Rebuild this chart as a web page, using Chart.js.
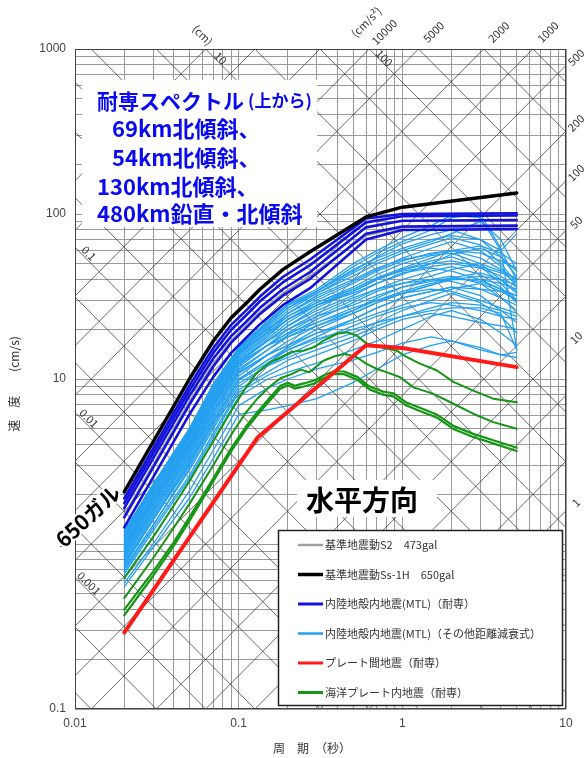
<!DOCTYPE html>
<html><head><meta charset="utf-8">
<script src="https://cdn.jsdelivr.net/npm/chart.js@4/dist/chart.umd.min.js"></script>
<style>html,body{margin:0;padding:0;background:#fff}canvas{display:block}</style>
</head><body>
<canvas id="c" width="588" height="758" style="width:588px;height:758px"></canvas>
<script>
// ---- axis ticks ----
const xTickValues = [0.01, 0.1, 1, 10];
const xTickLabels = ['0.01', '0.1', '1', '10'];
const yTickValues = [0.1, 1, 10, 100, 1000];
const yTickLabels = ['0.1', '1', '10', '100', '1000'];

// tripartite grid (pseudo acceleration cm/s2, displacement cm)
const accelGrid = [1,2,5,10,20,50,100,200,500,1000,2000,5000,10000,20000,50000,100000];
const dispGrid = [0.0001,0.0002,0.0005,0.001,0.002,0.005,0.01,0.02,0.05,0.1,0.2,0.5,1,2,5,10,20,50,100,200,500,1000,2000];
const accelTopLabels = [10000, 5000, 2000, 1000];
const accelRightLabels = [500, 200, 100, 50, 10, 1];
const dispTopLabels = [10, 100];
const dispLeftLabels = ['0.1', '0.01', '0.001'];
const dispLeftValues = [0.1, 0.01, 0.001];

// ---- spectra (period s, velocity cm/s) ----
const envT = [0.02, 0.05, 0.07, 0.09, 0.11, 0.135, 0.186, 0.273, 0.6, 1.0, 5.0];
const ss1hV =    [2.07, 10.0, 17.0, 23.5, 28.5, 35.0, 46.0, 59.0, 96, 110, 134];
const s2V =      [1.50, 7.3, 12.4, 17.1, 20.8, 25.5, 33.0, 42.0, 74, 83, 84];
const taisen1V = [1.89, 9.1, 15.4, 21.3, 25.8, 31.6, 41.5, 53.0, 94, 100, 101];
const taisen2V = [1.77, 8.5, 14.4, 19.9, 24.1, 29.6, 38.5, 49.0, 89, 97, 98];
const taisen3V = [1.65, 7.9, 13.3, 18.2, 22.0, 27.0, 35.0, 44.5, 83, 91, 92];
const taisen4V = [1.45, 7.0, 11.9, 16.6, 20.2, 24.8, 32.0, 40.5, 76, 84, 85];
const taisen5V = [1.26, 6.1, 10.3, 14.4, 17.6, 21.5, 28.0, 35.5, 70, 80, 81];

const plateT = [0.02, 0.13, 0.6, 1.0, 5.0];
const plateV = [0.29, 4.4, 16, 15.4, 11.8];

const slab1T = [0.02,0.03,0.04,0.05,0.07,0.09,0.11,0.13,0.155,0.18,0.21,0.25,0.29,0.33,0.4,0.46,0.53,0.6,0.73,0.92,1.06,1.28,1.62,2.05,2.71,3.59,5.0];
const slab1V = [0.62,1.1,1.7,2.4,4.2,6.4,8.8,11.0,12.6,13.5,14.6,14.9,15.6,17.1,18.8,19.2,18.3,16.5,15.6,14.9,13.6,12.4,11.3,9.6,8.5,7.6,7.24];
const slab2T = [0.02,0.03,0.04,0.05,0.07,0.09,0.11,0.13,0.155,0.18,0.21,0.24,0.27,0.33,0.39,0.45,0.53,0.6,0.7,0.8,0.97,1.17,1.55,2.05,2.71,3.59,5.0];
const slab2V = [0.47,0.82,1.25,1.75,3.0,4.6,6.2,7.6,9.0,10.1,10.7,11.4,11.0,12.9,13.8,14.2,13.5,12.4,11.5,11.0,10.25,8.9,8.13,7.08,6.16,5.48,5.0];
const slab3T = [0.02,0.03,0.04,0.05,0.07,0.09,0.11,0.13,0.155,0.18,0.2,0.22,0.25,0.29,0.33,0.38,0.44,0.53,0.63,0.76,0.88,1.06,1.28,1.62,2.05,2.71,3.59,5.0];
const slab3V = [0.40,0.68,1.02,1.45,2.5,3.8,5.1,6.3,7.7,9.1,9.5,9.1,9.4,9.8,10.5,11.1,11.1,10.3,9.0,8.4,8.2,7.2,6.7,6.1,5.2,4.65,4.25,3.83];
const slab4V = [0.37,0.64,0.97,1.38,2.4,3.65,4.9,6.05,7.4,8.75,9.15,8.75,9.0,9.4,10.1,10.7,10.7,9.9,8.65,8.05,7.85,6.9,6.4,5.85,4.98,4.45,4.07,3.66];

const otherT = [0.02,0.03,0.05,0.07,0.1,0.15,0.2,0.3,0.5,0.7,1.0,1.5,2.0,3.0,4.0,5.0];
const otherV = [
 [0.55,0.95,1.9,3.3,6.1,6.5,6.9,7.6,9.5,11.5,14,16,17,15.5,14,13.5],
 [0.58,1.0,2.1,3.7,6.9,8.8,10,11.5,13,14.5,16.5,18,17,15,14,14.5],
 [0.63,1.1,2.4,4.3,7.8,10,11,12.5,15,17,20,24,26,23,19,16],
 [0.66,1.2,2.5,4.5,8.3,10.5,12,14,17,20,23,25,24,22,21,20],
 [0.70,1.3,2.8,5.0,9.0,12,13.5,16,19,22,26,30,33,29,24,19],
 [0.72,1.3,2.9,5.2,9.4,12,14,17,21,24,27,29,28,26,24,23],
 [0.74,1.4,3.0,5.4,9.8,12.5,15,18,23,27,31,34,36,32,26,22],
 [0.76,1.4,3.1,5.6,10,13,15.5,19,22,25,28,32,35,38,34,30],
 [0.78,1.45,3.2,5.8,10.4,14,16,20,25,29,33,35,34,30,27,25],
 [0.80,1.5,3.3,6.0,10.8,14,17,21,26,31,36,40,42,38,31,26],
 [0.82,1.55,3.4,6.2,11.2,15,18,22,27,30,33,37,41,44,40,34],
 [0.84,1.6,3.5,6.4,11.5,15,18.5,23,29,34,38,40,39,35,31,28],
 [0.86,1.65,3.6,6.6,11.8,16,19,24,30,35,40,45,48,43,36,29],
 [0.88,1.7,3.7,6.8,12.2,16,20,25,31,35,38,42,46,50,45,38],
 [0.90,1.75,3.8,7.0,12.5,17,21,26,32,38,44,47,45,40,35,32],
 [0.92,1.8,3.9,7.2,12.8,17,21,27,34,40,46,52,55,48,38,30],
 [0.94,1.85,4.0,7.4,13,17.5,22,28,35,41,45,48,50,47,42,36],
 [0.96,1.9,4.1,7.5,13.3,18,23,29,36,43,50,56,58,50,40,33],
 [0.98,1.9,4.2,7.7,13.6,18.5,23,28,33,38,43,50,57,62,55,45],
 [1.0,1.95,4.3,7.9,13.9,19,24,30,38,45,52,58,60,54,46,40],
 [1.02,2.0,4.4,8.1,14.1,19.5,25,31,39,46,54,62,68,60,48,36],
 [1.05,2.05,4.5,8.3,14.4,20,25,32,40,47,53,57,60,58,52,47],
 [1.07,2.1,4.6,8.5,14.6,20.5,26,33,42,50,58,66,72,65,50,38],
 [1.1,2.15,4.7,8.7,14.9,21,27,33,44,52,60,68,76,90,70,45],
 [1.12,2.2,4.8,8.9,15.1,21.5,27,34,45,55,66,75,80,70,55,42],
 [1.15,2.25,4.9,9.1,15.3,22,28,34,48,58,68,80,95,100,62,15],
 [1.18,2.3,5.0,9.3,15.5,22.5,28.5,35,50,60,72,85,98,95,60,40],
 [1.2,2.3,5.0,9.3,15.5,22,28,34,46,54,62,70,74,70,60,76],
 [0.75,1.4,3.1,5.5,9.9,13,15,17.5,20,22,24,26,27,27,25,15],
 [0.85,1.6,3.5,6.3,11,14,16,19,23,27,31,34,36,35,34,32],
 [0.95,1.8,3.9,7.1,12.5,16,19,22,26,30,34,38,40,42,40,37],
 [1.0,1.9,4.1,7.6,13,17,20,24,28,32,36,39,41,39,35,30],
 [0.68,1.25,2.6,4.7,8.6,11,13,15,18,21,24,27,29,28,26,24],
 [1.08,2.1,4.5,8.3,14.5,19,23,28,34,40,46,50,52,48,44,41],
 [0.92,1.75,3.8,6.9,12.3,16,18,21,25,29,33,37,40,40,38,35],
 [1.13,2.2,4.7,8.6,14.8,20,24,29,35,41,47,54,60,64,58,50]
];

// legend entries
const legendLabels = [
  '基準地震動S2　473gal',
  '基準地震動Ss-1H　650gal',
  '内陸地殻内地震(MTL)（耐専）',
  '内陸地殻内地震(MTL)（その他距離減衰式）',
  'プレート間地震（耐専）',
  '海洋プレート内地震（耐専）'
];
const COL = { s2: 'rgb(160,160,160)', ss: '#000000', taisen: '#1212dc', other: 'rgb(35,160,240)', plate: '#ff1a1a', slab: '#149614' };
const legendColors = [COL.s2, COL.ss, COL.taisen, COL.other, COL.plate, COL.slab];
const legendWidths = [2.5, 3.5, 3, 2.5, 3, 3];

const TWO_PI = 2 * Math.PI;
const JP = "'Noto Sans CJK JP', 'Noto Sans', sans-serif";

function logGrid(e0, e1) {
  const out = [];
  for (let e = e0; e < e1; e++) for (let m = 1; m <= 9; m++) out.push(Number((m * Math.pow(10, e)).toPrecision(6)));
  out.push(Math.pow(10, e1));
  return out;
}
const xGridVals = logGrid(-2, 1);
const yGridVals = logGrid(-1, 3);
function labelFor(v, vals, labels) {
  for (let i = 0; i < vals.length; i++) if (Math.abs(Math.log10(v) - Math.log10(vals[i])) < 1e-6) return labels[i];
  return '';
}
function series(label, T, V, color, width, order) {
  return { label, data: T.map((t, i) => ({ x: t, y: V[i] })), borderColor: color, backgroundColor: color,
    borderWidth: width, pointRadius: 0, fill: false, tension: 0, order, borderJoinStyle: 'round', borderCapStyle: 'round' };
}
const datasets = [];
datasets.push(series('基準地震動Ss-1H', envT, ss1hV, COL.ss, 3.5, 0));
[taisen1V, taisen2V, taisen3V, taisen4V, taisen5V].forEach((v, i) => datasets.push(series('耐専' + (i + 1), envT, v, COL.taisen, 2.6, 1)));
datasets.push(series('プレート間地震', plateT, plateV, COL.plate, 4, 2));
datasets.push(series('海洋1', slab1T, slab1V, COL.slab, 2, 3));
datasets.push(series('海洋2', slab2T, slab2V, COL.slab, 2, 3));
datasets.push(series('海洋3', slab3T, slab3V, COL.slab, 2.2, 3));
datasets.push(series('海洋4', slab3T, slab4V, COL.slab, 2.2, 3));
otherV.forEach((v, i) => datasets.push(series('その他' + (i + 1), otherT, v, COL.other, 1.3, 4)));
datasets.push(series('基準地震動S2', envT, s2V, COL.s2, 2, 5));

function rotText(ctx, txt, x, y, ang) {
  ctx.save(); ctx.translate(x, y); ctx.rotate(ang); ctx.fillText(txt, 0, 0); ctx.restore();
}

const overlay = {
  id: 'overlay',
  beforeDatasetsDraw(chart) {
    const { ctx, chartArea: a, scales: { x, y } } = chart;
    ctx.save();
    ctx.beginPath(); ctx.rect(a.left, a.top, a.right - a.left, a.bottom - a.top); ctx.clip();
    ctx.strokeStyle = 'rgba(50,50,50,0.9)'; ctx.lineWidth = 0.8;
    const t0 = 0.005, t1 = 20;
    accelGrid.forEach(A => {
      ctx.beginPath();
      ctx.moveTo(x.getPixelForValue(t0), y.getPixelForValue(A * t0 / TWO_PI));
      ctx.lineTo(x.getPixelForValue(t1), y.getPixelForValue(A * t1 / TWO_PI));
      ctx.stroke();
    });
    dispGrid.forEach(D => {
      ctx.beginPath();
      ctx.moveTo(x.getPixelForValue(t0), y.getPixelForValue(TWO_PI * D / t0));
      ctx.lineTo(x.getPixelForValue(t1), y.getPixelForValue(TWO_PI * D / t1));
      ctx.stroke();
    });
    // white boxes
    ctx.fillStyle = '#fff';
    ctx.fillRect(82, 80, 235, 147);
    ctx.fillRect(297, 480, 140, 37);
    ctx.fillRect(278, 530, 285, 175);
    ctx.restore();
  },
  afterDatasetsDraw(chart) {
    const { ctx, chartArea: a, scales: { x, y } } = chart;
    ctx.save();
    // frame
    ctx.strokeStyle = '#444'; ctx.lineWidth = 1;
    ctx.strokeRect(a.left + 0.5, a.top + 0.5, a.right - a.left - 1, a.bottom - a.top - 1);

    // diagonal labels
    ctx.fillStyle = '#333'; ctx.font = '11px ' + JP; ctx.textAlign = 'center'; ctx.textBaseline = 'middle';
    accelTopLabels.forEach(A => {
      const px = x.getPixelForValue(TWO_PI * 1000 / A);
      rotText(ctx, String(A), px + 15, a.top - 17, -Math.PI / 4);
    });
    rotText(ctx, '(cm/s²)', x.getPixelForValue(TWO_PI * 1000 / 10000) - 3, a.top - 27, -Math.PI / 4);
    accelRightLabels.forEach(A => {
      const py = y.getPixelForValue(A * 10 / TWO_PI);
      rotText(ctx, String(A), a.right + 10, py - 8, -Math.PI / 4);
    });
    dispTopLabels.forEach(D => {
      const px = x.getPixelForValue(TWO_PI * D / 1000);
      rotText(ctx, String(D), px + 15, a.top + 9, Math.PI / 4);
    });
    rotText(ctx, '(cm)', x.getPixelForValue(TWO_PI * 10 / 1000) - 3, a.top - 14, Math.PI / 4);
    dispLeftValues.forEach((D, i) => {
      const py = y.getPixelForValue(TWO_PI * D / 0.01);
      rotText(ctx, dispLeftLabels[i], a.left + 14, py + 6, Math.PI / 4);
    });

    // axis titles
    ctx.fillStyle = '#333'; ctx.font = '12px ' + JP;
    rotText(ctx, '速　度　　(cm/s)', 14, 384, -Math.PI / 2);
    ctx.fillText('周　期　（秒）', 312, 748);

    // blue title text
    ctx.textAlign = 'left'; ctx.fillStyle = '#0a0af0';
    ctx.font = 'bold 21px ' + JP;
    ctx.fillText('耐専スペクトル', 97, 101);
    const w1 = ctx.measureText('耐専スペクトル').width;
    ctx.font = 'bold 17px ' + JP;
    ctx.fillText('(上から)', 97 + w1 + 4, 101);
    ctx.font = 'bold 22px ' + JP;
    ctx.fillText('69km北傾斜、', 112, 129);
    ctx.fillText('54km北傾斜、', 112, 158);
    ctx.fillText('130km北傾斜、', 97, 187);
    ctx.fillText('480km鉛直・北傾斜', 97, 214);

    // 650ガル
    ctx.save();
    ctx.translate(88, 516); ctx.rotate(-0.75);
    ctx.font = 'bold 21px ' + JP; ctx.textAlign = 'center';
    ctx.strokeStyle = '#fff'; ctx.lineWidth = 4; ctx.lineJoin = 'round';
    ctx.strokeText('650ガル', 0, 0);
    ctx.fillStyle = '#000'; ctx.fillText('650ガル', 0, 0);
    ctx.restore();

    // 水平方向
    ctx.font = 'bold 28px ' + JP; ctx.textAlign = 'center'; ctx.fillStyle = '#000';
    ctx.fillText('水平方向', 362, 500);

    // legend
    ctx.strokeStyle = '#222'; ctx.lineWidth = 1.5;
    ctx.strokeRect(278.5, 530.5, 284, 175);
    ctx.font = '11px ' + JP; ctx.textAlign = 'left';
    legendLabels.forEach((lab, i) => {
      const ly = 545 + i * 29.5;
      ctx.strokeStyle = legendColors[i]; ctx.lineWidth = legendWidths[i];
      ctx.beginPath(); ctx.moveTo(298, ly); ctx.lineTo(323, ly); ctx.stroke();
      ctx.fillStyle = '#333'; ctx.fillText(lab, 325, ly);
    });
    ctx.restore();
  }
};

new Chart(document.getElementById('c'), {
  type: 'line',
  data: { datasets },
  options: {
    responsive: false, animation: false, devicePixelRatio: 1,
    layout: { padding: { top: 49, right: 22, left: 0, bottom: 0 } },
    plugins: { legend: { display: false }, tooltip: { enabled: false } },
    scales: {
      x: {
        type: 'logarithmic', min: 0.01, max: 10,
        afterBuildTicks: s => { s.ticks = xGridVals.map(v => ({ value: v })); },
        afterFit: s => { s.height = 49; },
        grid: { color: '#9a9a9a', lineWidth: 1, drawTicks: false },
        border: { display: false },
        ticks: { autoSkip: false, maxRotation: 0, padding: 7, color: '#444', font: { size: 12, family: "'Liberation Sans', sans-serif" },
          callback: v => labelFor(v, xTickValues, xTickLabels) }
      },
      y: {
        type: 'logarithmic', min: 0.1, max: 1000,
        afterBuildTicks: s => { s.ticks = yGridVals.map(v => ({ value: v })); },
        afterFit: s => { s.width = 75; },
        grid: { color: '#9a9a9a', lineWidth: 1, drawTicks: false },
        border: { display: false },
        ticks: { autoSkip: false, padding: 9, color: '#444', font: { size: 12, family: "'Liberation Sans', sans-serif" },
          callback: v => labelFor(v, yTickValues, yTickLabels) }
      }
    }
  },
  plugins: [overlay]
});
</script>
</body></html>
